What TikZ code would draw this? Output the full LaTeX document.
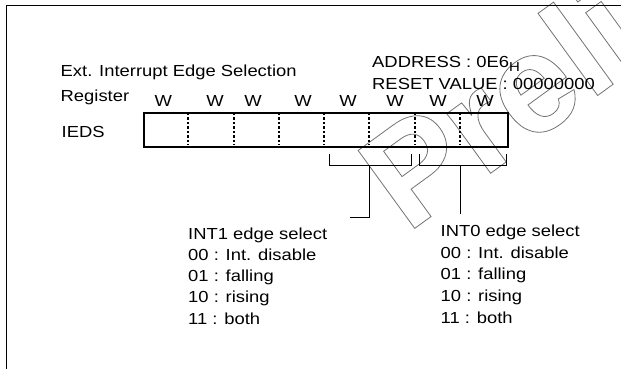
\documentclass[tikz,border=0pt]{standalone}
\usepackage{fontspec}
\setmainfont{Liberation Sans}[FakeStretch=1.15]
\newfontfamily\wmfont{Liberation Sans}
\begin{document}
\begin{tikzpicture}[x=1pt,y=-1pt,
  txt/.style={font=\fontsize{16}{19}\selectfont, inner sep=0pt, anchor=base west},
  wlab/.style={font=\fontsize{16}{19}\selectfont, inner sep=0pt, anchor=base},
  regbox/.style={draw, line width=2pt},
  divider/.style={line width=1.8pt, dash pattern=on 2.5pt off 2pt},
  bracket/.style={line width=0.8pt},
  frameline/.style={line width=1.8pt},
  wm/.style={font=\wmfont\bfseries\fontsize{140}{140}\selectfont, text=black!55, inner sep=0pt}]
\useasboundingbox (0,0) rectangle (621,369);
% watermark (outlined)
\node[wm, rotate=36, anchor=base west] (wmark) at (407,234)
  {\special{pdf:literal direct 1 Tr 0.8 w}Preliminary\special{pdf:literal direct 0 Tr}};
% frame
\coordinate (fbl) at (6.5,369);
\coordinate (ftl) at (6.5,5.5);
\coordinate (ftr) at (621,5.5);
\draw[frameline] (fbl) -- (ftl) -- (ftr);
% titles
\node[txt] (title1) at (60.5,76.5) {Ext. Interrupt Edge Selection};
\node[txt] (title2) at (60.5,101.5) {Register};
\node[txt] (addr) at (372,67.5) {ADDRESS : 0E6\raisebox{-4pt}{\fontsize{13}{13}\selectfont H}};
\node[txt] (reset) at (372,89.3) {RESET VALUE : 00000000};
\node[txt] (ieds) at (61.5,137.7) {IEDS};
% W labels
\foreach \x [count=\i] in {163.3,215,253,303,348,395,438,485}
  \node[wlab] (w\i) at (\x,106.7) {W};
% register box
\node[regbox, minimum width=364pt, minimum height=34pt, inner sep=0pt, anchor=north west] (reg) at (142.7,111.7) {};
\foreach \x [count=\i] in {187.7,234,279,324,369.3,415,460}
  \draw[divider] (\x,112.7) -- (\x,144.7);
% brackets
\coordinate (b1a) at (329,154); \coordinate (b1b) at (329,165);
\coordinate (b1c) at (411,165); \coordinate (b1d) at (411,154);
\coordinate (b1m) at (369.3,165); \coordinate (b1e) at (369.3,217); \coordinate (b1f) at (350,217);
\draw[bracket] (b1a) -- (b1b) -- (b1c) -- (b1d);
\draw[bracket] (b1m) -- (b1e) -- (b1f);
\coordinate (b0a) at (419.3,154); \coordinate (b0b) at (419.3,165);
\coordinate (b0c) at (506,165); \coordinate (b0d) at (506,154);
\coordinate (b0m) at (460,165); \coordinate (b0e) at (460,214);
\draw[bracket] (b0a) -- (b0b) -- (b0c) -- (b0d);
\draw[bracket] (b0m) -- (b0e);
% INT1 text
\node[txt] (i1t) at (188,239) {INT1 edge select};
\node[txt] (i1a) at (188,260.5) {00 : Int. disable};
\node[txt] (i1b) at (188,281.7) {01 : falling};
\node[txt] (i1c) at (188,302.9) {10 : rising};
\node[txt] (i1d) at (188,324.2) {11 : both};
% INT0 text
\node[txt] (i0t) at (440.5,236.7) {INT0 edge select};
\node[txt] (i0a) at (440.5,258.3) {00 : Int. disable};
\node[txt] (i0b) at (440.5,279.9) {01 : falling};
\node[txt] (i0c) at (440.5,301.5) {10 : rising};
\node[txt] (i0d) at (440.5,323.2) {11 : both};
\end{tikzpicture}
\end{document}
